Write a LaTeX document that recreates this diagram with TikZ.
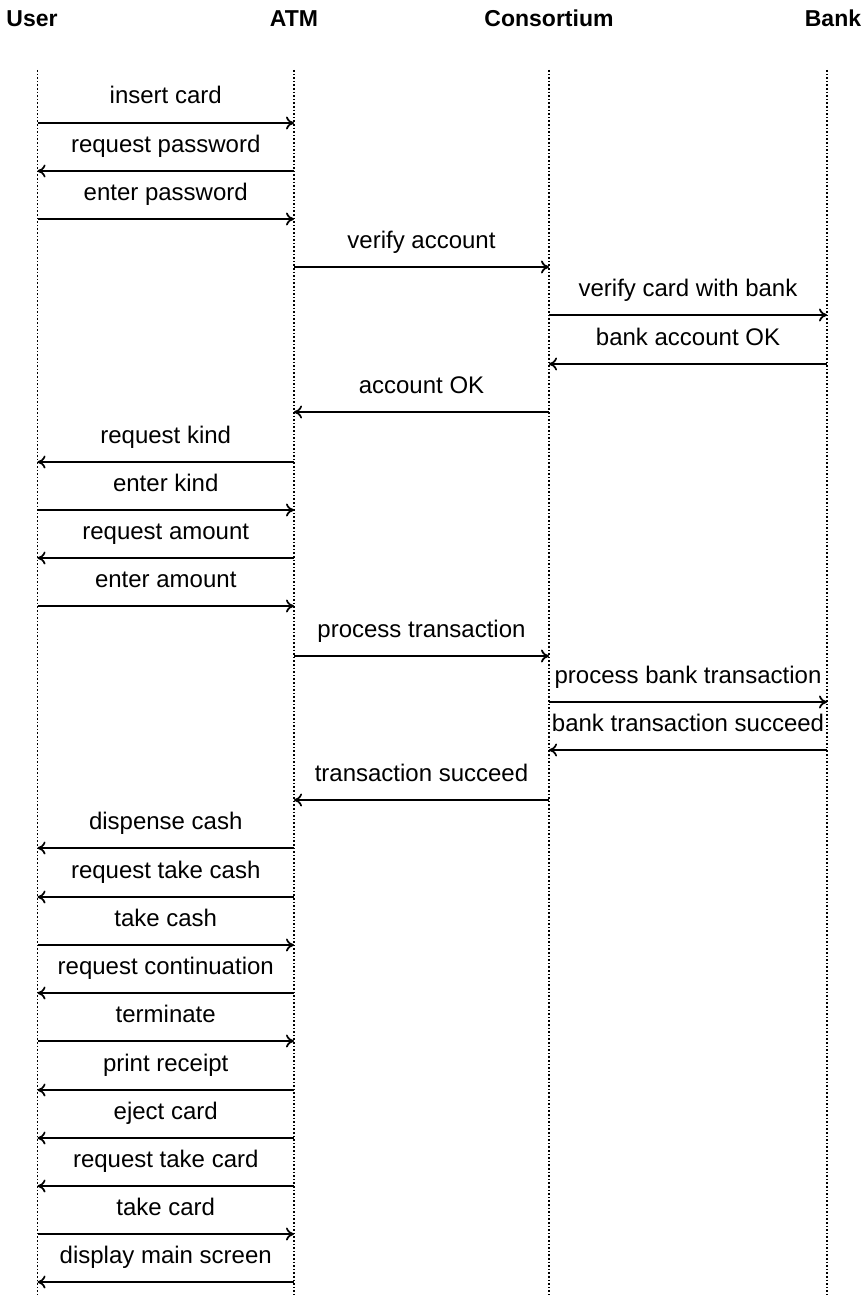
\documentclass[tikz,border=0pt]{standalone}
\usepackage{fontspec}
\setmainfont{Liberation Sans}
\usetikzlibrary{arrows.meta}
\begin{document}
\begin{tikzpicture}[x=1pt,y=-1pt,
  head/.style={font=\fontsize{23}{25}\selectfont\bfseries, anchor=base, inner sep=0pt},
  life/.style={line width=1.6pt, dotted},
  msg/.style={line width=1.9pt, -{To[length=8pt,width=13pt,line width=1.7pt]}},
  lab/.style={font=\fontsize{24}{26}\selectfont, anchor=base, inner sep=0pt, yshift=19pt}]
\useasboundingbox (0,0) rectangle (862,1295);
\node[head] (hU) at (32,27) {User};
\node[head] (hA) at (294,27) {ATM};
\node[head] (hC) at (549,27) {Consortium};
\node[head] (hB) at (833,27) {Bank};
\coordinate (U0) at (37.5,70); \coordinate (U1) at (37.5,1295);
\coordinate (A0) at (294,70);  \coordinate (A1) at (294,1295);
\coordinate (C0) at (549,70);  \coordinate (C1) at (549,1295);
\coordinate (B0) at (827,70);  \coordinate (B1) at (827,1295);
\draw[life] (U0) -- (U1);
\draw[life] (A0) -- (A1);
\draw[life] (C0) -- (C1);
\draw[life] (B0) -- (B1);
\foreach \i/\y/\f/\t/\txt in {
 1/123/37.5/294/insert card,
 2/171/294/37.5/request password,
 3/219/37.5/294/enter password,
 4/267/294/549/verify account,
 5/315/549/827/verify card with bank,
 6/364/827/549/bank account OK,
 7/412/549/294/account OK,
 8/462/294/37.5/request kind,
 9/510/37.5/294/enter kind,
 10/558/294/37.5/request amount,
 11/606/37.5/294/enter amount,
 12/656/294/549/process transaction,
 13/702/549/827/process bank transaction,
 14/750/827/549/bank transaction succeed,
 15/800/549/294/transaction succeed,
 16/848/294/37.5/dispense cash,
 17/897/294/37.5/request take cash,
 18/945/37.5/294/take cash,
 19/993/294/37.5/request continuation,
 20/1041/37.5/294/terminate,
 21/1090/294/37.5/print receipt,
 22/1138/294/37.5/eject card,
 23/1186/294/37.5/request take card,
 24/1234/37.5/294/take card,
 25/1282/294/37.5/display main screen}{
  \coordinate (s\i) at (\f,\y);
  \coordinate (t\i) at (\t,\y);
  \draw[msg] (s\i) -- node[lab] (l\i) {\txt} (t\i);
}
\end{tikzpicture}
\end{document}
